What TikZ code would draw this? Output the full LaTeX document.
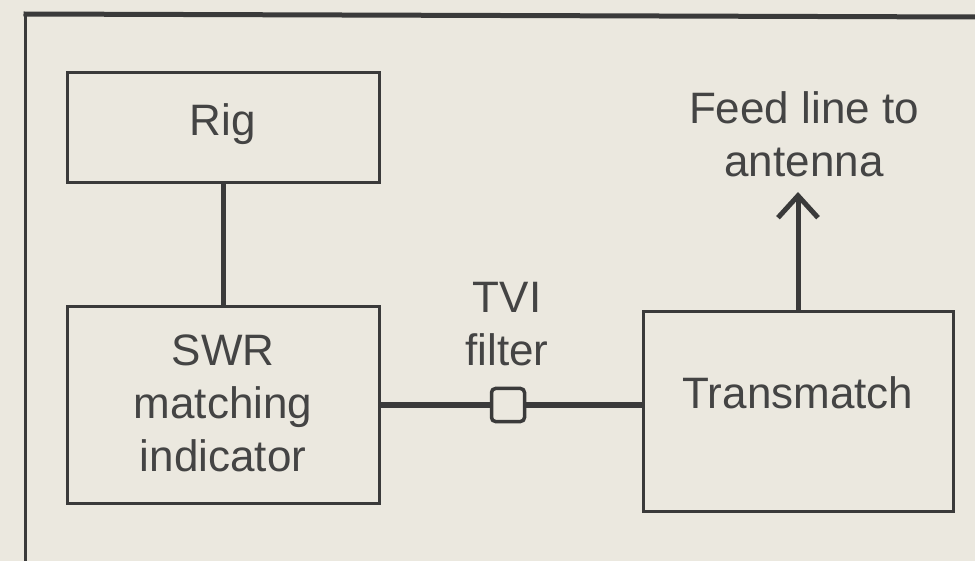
\documentclass[tikz,border=0pt]{standalone}
\usepackage{fontspec}
\setmainfont{Liberation Sans}
\usetikzlibrary{arrows.meta}
\definecolor{paper}{HTML}{EBE8DF}
\definecolor{ink}{HTML}{3A3A3A}
\definecolor{txt}{HTML}{444444}
\begin{document}
\begin{tikzpicture}[x=1pt,y=-1pt,
  box/.style={draw=ink, line width=3pt, inner sep=0pt, outer sep=0pt, anchor=north west},
  lbl/.style={text=txt, inner sep=0pt, align=center, font=\fontsize{44}{53}\selectfont},
  wire/.style={draw=ink, line width=5pt},
  filt/.style={draw=ink, fill=paper, line width=3.5pt, minimum size=33pt, inner sep=0pt, rounded corners=4pt}]
\fill[paper] (0,0) rectangle (975,561);
\useasboundingbox (0,0) rectangle (975,561);
% outer frame
\draw[ink, line width=3pt] (25,561) -- (25,14);
\draw[ink, line width=5pt] (23.5,14) -- (975,17);
% boxes
\node[box, minimum width=312pt, minimum height=196pt] (swr) at (67,307) {};
\node[box, minimum width=312pt, minimum height=110pt] (rig) at (67,73) {};
\node[box, minimum width=310pt, minimum height=199pt] (tm) at (643,312) {};
\node[filt] (tvi) at (508,405) {};
\coordinate (feedtip) at (798,192);
% connectors
\draw[wire] (rig.south) -- (swr.north);
\draw[wire, line width=6pt] (swr.east |- tvi.west) -- (tvi.west);
\draw[wire, line width=6pt] (tvi.east) -- (tvi.east -| tm.west);
\draw[wire, -{Straight Barb[length=22pt,width=40pt,line width=5pt]}] (tm.north) -- (feedtip);
% labels
\node[lbl, anchor=base] (riglbl) at (223,136) {Rig};
\node[lbl, anchor=north] (swrlbl) at (223,335) {SWR\\matching\\indicator};
\node[lbl, anchor=base] (tmlbl) at (798,408) {Transmatch};
\node[lbl, anchor=north] (tvilbl) at (507,282) {TVI\\filter};
\node[lbl, anchor=north] (feedlbl) at (804,91) {Feed line to\\antenna};
\end{tikzpicture}
\end{document}
